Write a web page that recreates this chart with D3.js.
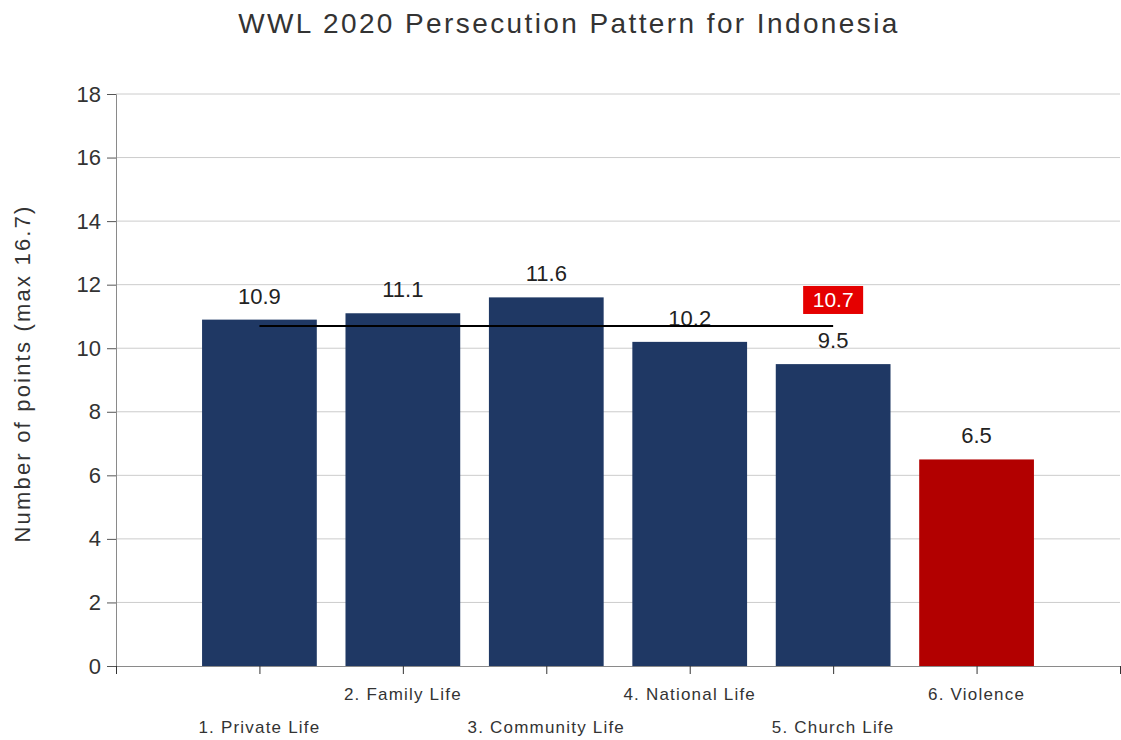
<!DOCTYPE html>
<html>
<head>
<meta charset="utf-8">
<script src="https://cdn.jsdelivr.net/npm/d3@7"></script>
<style>
  html, body { margin: 0; padding: 0; background: #fff; }
  svg { display: block; font-family: "Liberation Sans", Arial, sans-serif; }
</style>
</head>
<body>
<svg id="chart" width="1121" height="740"></svg>
<script>
// Persecution pattern scores per sphere of life
const categories = ["1. Private Life", "2. Family Life", "3. Community Life", "4. National Life", "5. Church Life", "6. Violence"];
const scores = [10.9, 11.1, 11.6, 10.2, 9.5, 6.5];
const averageScore = 10.7;           // average of the five spheres (excl. violence)
const yTickValues = [0, 2, 4, 6, 8, 10, 12, 14, 16, 18];
const yMax = 18;

const svg = d3.select("#chart");
const margin = { left: 116, right: 1120, top: 94, bottom: 666 };

const x = d3.scaleLinear().domain([0, categories.length + 1]).range([margin.left, margin.right]);
const y = d3.scaleLinear().domain([0, yMax]).range([margin.bottom, margin.top]);
const half = 0.4;   // bar half-width in category units

// Title
svg.append("text")
  .attr("x", 569).attr("y", 33)
  .attr("text-anchor", "middle")
  .attr("font-size", 28).attr("letter-spacing", 2.4)
  .attr("fill", "#333")
  .text("WWL 2020 Persecution Pattern for Indonesia");

// Horizontal gridlines
svg.append("g")
  .selectAll("line").data(yTickValues.filter(d => d > 0)).join("line")
  .attr("x1", margin.left).attr("x2", margin.right)
  .attr("y1", d => y(d)).attr("y2", d => y(d))
  .attr("stroke", "#cccccc").attr("stroke-width", 1);

// Y axis
const yAxis = svg.append("g")
  .attr("transform", `translate(${margin.left},0)`)
  .call(d3.axisLeft(y).tickValues(yTickValues).tickSize(9).tickPadding(6).tickFormat(d3.format("d")));
yAxis.select(".domain").attr("stroke", "#8a8a8a");
yAxis.selectAll(".tick line").attr("stroke", "#555");
yAxis.selectAll(".tick text")
  .attr("font-size", 22).attr("fill", "#333")
  .attr("font-family", "'Liberation Sans', Arial, sans-serif");

// Y axis title
svg.append("text")
  .attr("transform", `translate(30,${(200 + 547) / 2}) rotate(-90)`)
  .attr("text-anchor", "middle")
  .attr("font-size", 22).attr("letter-spacing", 2.2)
  .attr("fill", "#333")
  .text("Number of points (max 16.7)");

// Bars
svg.append("g")
  .selectAll("rect").data(scores).join("rect")
  .attr("x", (d, i) => x(i + 1 - half))
  .attr("width", (d, i) => x(i + 1 + half) - x(i + 1 - half))
  .attr("y", d => y(d))
  .attr("height", d => y(0) - y(d))
  .attr("fill", (d, i) => categories[i] === "6. Violence" ? "#b20000" : "#1f3864");

// X axis
const xAxis = svg.append("g")
  .attr("transform", `translate(0,${margin.bottom})`)
  .call(d3.axisBottom(x).tickValues(d3.range(0, categories.length + 2)).tickSize(8).tickFormat(""));
xAxis.select(".domain").attr("stroke", "#8a8a8a");
xAxis.selectAll(".tick line").attr("stroke", "#333");

// Category labels, staggered on two rows
svg.append("g")
  .selectAll("text").data(categories).join("text")
  .attr("x", (d, i) => x(i + 1))
  .attr("y", (d, i) => i % 2 === 0 ? 733 : 700)
  .attr("text-anchor", "middle")
  .attr("font-size", 17).attr("letter-spacing", 1.2)
  .attr("fill", "#333")
  .text(d => d);

// Value labels
svg.append("g")
  .selectAll("text").data(scores).join("text")
  .attr("x", (d, i) => x(i + 1))
  .attr("y", d => y(d) - 16)
  .attr("text-anchor", "middle")
  .attr("font-size", 22)
  .attr("fill", "#222")
  .text(d => d3.format(".1f")(d));

// Average line across the five spheres
svg.append("line")
  .attr("x1", x(1)).attr("x2", x(5))
  .attr("y1", y(averageScore)).attr("y2", y(averageScore))
  .attr("stroke", "#000").attr("stroke-width", 1.8);

// Average badge
const badge = svg.append("g").attr("transform", `translate(${x(5)},${y(averageScore) - 26})`);
badge.append("rect")
  .attr("x", -30).attr("y", -14).attr("width", 60).attr("height", 28)
  .attr("fill", "#e50000");
badge.append("text")
  .attr("y", 7.5)
  .attr("text-anchor", "middle")
  .attr("font-size", 21)
  .attr("fill", "#fff")
  .text(d3.format(".1f")(averageScore));
</script>
</body>
</html>
